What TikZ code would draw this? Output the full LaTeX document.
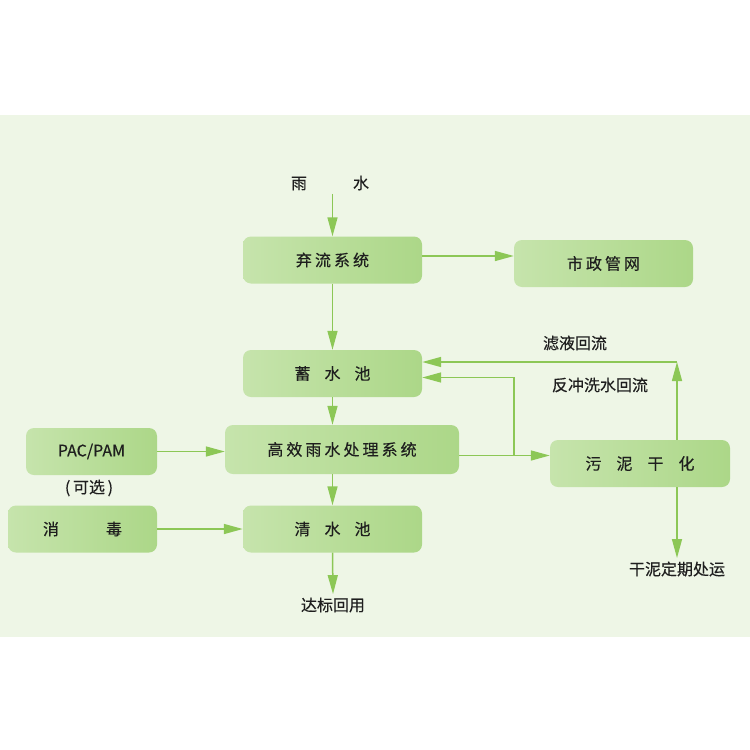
\documentclass[tikz,border=0pt]{standalone}
\usepackage{fontspec}
\usepackage{xcolor}
\usepackage{tikz}
\usetikzlibrary{arrows.meta,positioning,calc}
\setmainfont[FakeBold=0.4]{Noto Sans CJK SC}
\newfontfamily\boxfont[LetterSpace=19,FakeBold=0.4]{Noto Sans CJK SC}
\definecolor{band}{HTML}{EEF6E6}
\definecolor{leafL}{HTML}{C6E4AC}
\definecolor{leafR}{HTML}{ACD788}
\definecolor{stem}{HTML}{8CC756}
\definecolor{ink}{HTML}{1E1E1E}
\begin{document}
\begin{tikzpicture}[x=1pt,y=-1pt,font=\fontsize{16}{19}\selectfont,text=ink]
\tikzset{tank/.style={left color=leafL,right color=leafR,rounded corners=8pt,minimum height=47pt,inner sep=0pt},
 arr/.style={-{Triangle[length=19pt,width=10pt]},draw=stem,line width=1.5pt}}
\fill[white] (0,0) rectangle (750,750);
\fill[band] (0,115) rectangle (750,637);
\useasboundingbox (0,0) rectangle (750,750);
\node (rain) at (330,183) {雨\hspace{46pt}水};
\node[tank,minimum width=179pt] (qiliu) at (332.5,260) {\boxfont 弃流系统};
\node[tank,minimum width=179pt] (shizheng) at (603.5,263.5) {\boxfont 市政管网};
\node[tank,minimum width=179pt] (xushui) at (332.5,373.5) {蓄\hspace{14pt}水\hspace{14pt}池};
\node[tank,minimum width=234pt,minimum height=49pt] (gaoxiao) at (342,449.5) {\boxfont 高效雨水处理系统};
\node[tank,minimum width=131pt] (pac) at (91.5,451.5) {PAC/PAM};
\node (kexuan) at (89,488) {(\,可选\,)};
\node[tank,minimum width=149pt] (xiaodu) at (82.5,529) {消\hspace{47pt}毒};
\node[tank,minimum width=179pt] (qingshui) at (332.5,529) {清\hspace{14pt}水\hspace{14pt}池};
\node[tank,minimum width=180pt] (wunie) at (640,463.5) {污\hspace{15pt}泥\hspace{15pt}干\hspace{15pt}化};
\node (dabiao) at (333,605) {达标回用};
\node (ganni) at (677,569) {干泥定期处运};
\node (lvye) at (575,343) {滤液回流};
\node (fanchong) at (600,385) {反冲洗水回流};
\draw[arr] (qiliu.north |- rain.south) -- (qiliu.north);
\draw[arr] ([yshift=4pt]qiliu.east) -- ([yshift=4pt]qiliu.east -| shizheng.west);
\draw[arr] (qiliu.south) -- (xushui.north);
\draw[arr] (xushui.south) -- (xushui.south |- gaoxiao.north);
\draw[arr] (qingshui.north |- gaoxiao.south) -- (qingshui.north);
\draw[arr] (qingshui.south) -- (dabiao.north);
\draw[arr] (pac.east) -- (pac.east -| gaoxiao.west);
\draw[arr] (xiaodu.east) -- (xiaodu.east -| qingshui.west);
\draw[arr] ([yshift=-6pt]gaoxiao.east) -- ([yshift=-6pt]gaoxiao.east -| wunie.west);
\coordinate (split) at ([yshift=-6pt]gaoxiao.east -| 514,0);
\draw[arr] (split) |- ([yshift=-4pt]xushui.east);
\coordinate (corner) at (677,362);
\draw[arr] ([xshift=37pt]wunie.north) -- (corner);
\draw[arr] (corner) -- (corner -| xushui.east);
\draw[arr] ([xshift=37pt]wunie.south) -- ([xshift=37pt]wunie.south |- ganni.north);
\end{tikzpicture}
\end{document}
